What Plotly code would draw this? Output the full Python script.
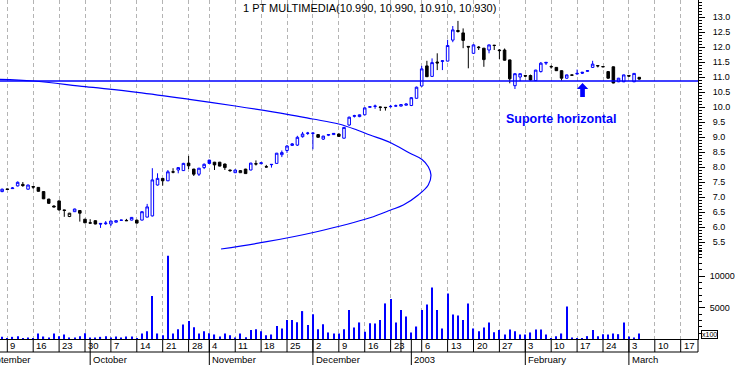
import pandas as pd
import plotly.graph_objects as go

# ---------------- trading calendar (categories) ----------------
holidays = ['2002-11-01', '2002-12-24', '2002-12-25', '2002-12-26', '2003-01-01']
axis_dates = [d for d in pd.bdate_range('2002-09-02', '2003-03-21')
              if d.strftime('%Y-%m-%d') not in holidays]
axis_keys = [d.strftime('%Y-%m-%d') for d in axis_dates]
first_date = '2002-09-06'

# ---------------- price data (OHLC) ----------------
opens = [7.18, 7.27, 7.28, 7.37, 7.42, 7.26, 7.35, 7.32, 7.18, 6.93, 6.70, 6.87, 6.57, 6.35, 6.51, 6.55,
         6.26, 6.14, 6.21, 6.12, 6.11, 6.10, 6.16, 6.22, 6.22, 6.23, 6.23, 6.23, 6.33, 6.37, 7.40, 7.62,
         7.54, 7.84, 7.90, 7.88, 8.13, 7.93, 7.76, 7.98, 8.23, 8.16, 8.16, 8.10, 7.90, 7.81, 7.81, 7.93,
         7.90, 8.11, 8.11, 8.01, 8.09, 8.12, 8.41, 8.55, 8.72, 8.73, 9.01, 9.12, 9.12, 9.08, 8.93, 9.06,
         9.08, 9.10, 8.96, 9.40, 9.69, 9.68, 9.74, 9.99, 10.02, 10.00, 9.99, 10.01, 10.03, 10.03, 10.06,
         10.05, 10.29, 10.70, 11.37, 11.02, 11.50, 11.52, 11.53, 12.23, 12.55, 12.47, 12.02, 11.79, 12.00,
         11.96, 11.90, 12.06, 11.90, 11.90, 11.57, 10.71, 11.00, 11.05, 11.05, 10.88, 11.18, 11.49, 11.35,
         11.32, 11.21, 10.96, 11.07, 11.10, 11.16, 11.19, 11.32, 11.38, 11.35, 11.18, 11.34, 10.84, 10.84,
         11.05, 10.84, 10.99]
highs = [7.28, 7.28, 7.33, 7.52, 7.50, 7.41, 7.36, 7.33, 7.19, 6.94, 6.72, 6.88, 6.58, 6.47, 6.61, 6.56,
         6.27, 6.26, 6.22, 6.12, 6.20, 6.21, 6.22, 6.24, 6.27, 6.33, 6.24, 6.52, 6.77, 7.96, 7.79, 7.63,
         7.90, 7.96, 8.00, 8.14, 8.37, 7.94, 7.97, 8.12, 8.24, 8.17, 8.17, 8.11, 7.91, 7.91, 7.89, 7.94,
         8.14, 8.22, 8.15, 8.07, 8.10, 8.47, 8.55, 8.73, 8.80, 9.04, 9.17, 9.17, 9.15, 9.09, 9.04, 9.10,
         9.13, 9.11, 9.33, 9.68, 9.74, 9.75, 9.98, 10.02, 10.08, 10.01, 9.99, 10.07, 10.08, 10.09, 10.12,
         10.33, 10.68, 11.37, 11.54, 11.62, 11.79, 11.56, 12.24, 12.70, 12.87, 12.62, 12.03, 12.09, 12.03,
         11.97, 12.08, 12.07, 11.93, 11.95, 11.58, 11.12, 11.12, 11.07, 11.08, 11.24, 11.50, 11.50, 11.39,
         11.33, 11.22, 11.08, 11.08, 11.25, 11.17, 11.23, 11.54, 11.40, 11.35, 11.20, 11.35, 10.97, 11.08,
         11.07, 11.13, 10.99]
lows = [7.16, 7.24, 7.27, 7.35, 7.34, 7.25, 7.27, 7.18, 6.93, 6.77, 6.66, 6.55, 6.34, 6.33, 6.50, 6.18,
        6.13, 6.12, 6.09, 5.97, 6.07, 6.03, 6.15, 6.21, 6.20, 6.22, 6.12, 6.22, 6.32, 6.35, 7.38, 7.38,
        7.53, 7.79, 7.79, 7.87, 7.93, 7.70, 7.70, 7.93, 8.11, 7.90, 8.02, 7.90, 7.84, 7.80, 7.80, 7.77,
        7.89, 8.05, 8.10, 7.99, 7.98, 8.11, 8.33, 8.47, 8.70, 8.70, 8.98, 9.07, 8.59, 8.98, 8.90, 9.03,
        9.07, 9.01, 8.95, 9.37, 9.65, 9.66, 9.73, 9.98, 9.94, 9.87, 9.88, 9.98, 10.01, 10.02, 10.05,
        10.03, 10.28, 10.68, 11.00, 11.00, 11.23, 11.23, 11.52, 12.16, 12.48, 11.96, 11.29, 11.77, 11.90,
        11.34, 11.79, 11.90, 11.60, 11.55, 10.79, 10.60, 10.86, 11.00, 10.88, 10.87, 11.15, 11.40, 11.28,
        11.20, 10.88, 10.94, 11.04, 11.08, 11.10, 11.17, 11.30, 11.32, 11.33, 10.94, 10.79, 10.83, 10.83,
        11.00, 10.83, 10.91]
closes = [7.26, 7.25, 7.30, 7.49, 7.38, 7.40, 7.33, 7.19, 6.94, 6.79, 6.67, 6.57, 6.55, 6.46, 6.60, 6.46,
          6.14, 6.13, 6.10, 6.10, 6.13, 6.20, 6.21, 6.23, 6.21, 6.32, 6.13, 6.51, 6.67, 7.57, 7.62, 7.54,
          7.84, 7.83, 7.98, 8.12, 8.04, 7.76, 7.96, 8.09, 8.12, 8.07, 8.03, 7.98, 7.88, 7.90, 7.88, 7.78,
          8.13, 8.10, 8.14, 8.00, 8.08, 8.46, 8.48, 8.70, 8.77, 8.99, 9.10, 9.13, 9.13, 8.99, 9.03, 9.08,
          9.12, 9.02, 9.32, 9.66, 9.71, 9.74, 9.97, 10.01, 10.03, 9.99, 9.98, 10.02, 10.04, 10.08, 10.10,
          10.31, 10.66, 11.27, 11.01, 11.48, 11.47, 11.54, 12.05, 12.57, 12.52, 12.22, 12.00, 12.07, 11.98,
          11.58, 12.07, 12.05, 11.88, 11.56, 10.94, 11.11, 11.11, 11.03, 10.90, 11.23, 11.46, 11.47, 11.34,
          11.21, 10.96, 11.07, 11.06, 11.12, 11.13, 11.21, 11.43, 11.37, 11.34, 10.96, 10.80, 10.96, 11.07,
          11.03, 11.12, 10.93]
# volume in units of x100
volumes = [420, 150, 420, 530, 100, 320, 200, 950, 475, 320, 950, 530, 790, 320, 320, 530,
           1000, 320, 320, 420, 530, 320, 475, 320, 475, 475, 200, 950, 1320, 6850, 950, 690,
           13200, 950, 1630, 2370, 2900, 1950, 950, 1320, 1000, 790, 475, 950, 690, 300, 950, 370,
           1480, 1630, 1320, 690, 790, 2110, 1740, 3060, 3060, 2740, 4480, 2270, 4000, 1630, 2420, 1110,
           950, 950, 1630, 4640, 1900, 2690, 1210, 2580, 2530, 3060, 5690, 6370, 2690, 4640, 3630,
           1110, 2050, 4640, 5530, 8220, 4640, 1740, 7270, 3950, 3790, 3060, 5690, 1740, 1320,
           1900, 2690, 1160, 1480, 790, 1580, 1320, 790, 790, 1110, 1580, 1580, 790, 250,
           530, 950, 5220, 320, 250, 250, 530, 1480, 530, 840, 790, 950, 840, 2690,
           475, 320, 950]

title_text = '1 PT MULTIMEDIA(10.990, 10.990, 10.910, 10.930)'
support_level = 10.867
support_label = 'Suporte horizontal'
support_label_date = '2003-02-12'
arrow_date = '2003-02-18'

# hand-drawn curve (date position, price)
curve_pos = [3.59, 10.02, 20.06, 30.10, 40.14, 49.02, 59.05, 63.96, 68.98, 72.51, 75.02, 79.02, 82.74,
             85.0, 86.27, 86.79, 86.27, 84.34, 81.45, 79.02, 75.02, 64.73, 55.08, 46.26]
curve_price = [10.923, 10.867, 10.677, 10.49, 10.257, 10.033, 9.757, 9.60, 9.433, 9.233, 9.067, 8.81,
               8.457, 8.257, 8.01, 7.733, 7.40, 7.067, 6.733, 6.567, 6.307, 5.843, 5.51, 5.267]

price_ticks = [5.0, 5.5, 6.0, 6.5, 7.0, 7.5, 8.0, 8.5, 9.0, 9.5, 10.0, 10.5, 11.0, 11.5, 12.0, 12.5, 13.0, 13.5]
price_labels = ['', '5.5', '6.0', '6.5', '7.0', '7.5', '8.0', '8.5', '9.0', '9.5', '10.0', '10.5',
                '11.0', '11.5', '12.0', '12.5', '13.0', '']
vol_ticks = [0, 5000, 10000]
vol_labels = ['', '5000', '10000']
hidden_weeks = ['2002-12-30']
month_names = {9: 'September', 10: 'October', 11: 'November', 12: 'December',
               1: '2003', 2: 'February', 3: 'March'}

# ---------------- derived positions ----------------
start = axis_keys.index(first_date)
pos = list(range(start, start + len(closes)))
X0, X1 = 3.59, 138.34
Y0, Y1 = 2.2667, 13.5667
V0, V1 = 79, 53540

BLUE = '#0000ff'
FONT = 'Liberation Sans, Arial, sans-serif'

fig = go.Figure()
fig.add_trace(go.Bar(x=pos, y=volumes, width=0.22, marker=dict(color=BLUE, line=dict(width=0)),
                     yaxis='y2', showlegend=False, hoverinfo='skip'))
fig.add_trace(go.Scatter(x=curve_pos, y=curve_price, mode='lines', line=dict(color=BLUE, width=1.2, shape='spline'),
                         showlegend=False, hoverinfo='skip'))

up_idx, dn_idx = [], []
for i in range(len(closes)):
    if i == 0 or closes[i] >= closes[i - 1]:
        up_idx.append(i)
    else:
        dn_idx.append(i)

for idx, col in ((up_idx, BLUE), (dn_idx, '#000000')):
    fig.add_trace(go.Candlestick(
        x=[pos[i] for i in idx], open=[opens[i] for i in idx], high=[highs[i] for i in idx],
        low=[lows[i] for i in idx], close=[closes[i] for i in idx],
        increasing=dict(line=dict(color=col, width=1), fillcolor='white'),
        decreasing=dict(line=dict(color=col, width=1), fillcolor=col),
        whiskerwidth=0, showlegend=False, hoverinfo='skip'))

# week ticks / month lines
week_pos, month_pos = [], []
prev_week = None
prev_month = None
for k, d in enumerate(axis_dates):
    wk = d.isocalendar()[1]
    if wk != prev_week:
        week_pos.append((k, d))
        prev_week = wk
    if d.month != prev_month:
        month_pos.append((k, d))
        prev_month = d.month

grid_pos = [k for k, d in week_pos if d.strftime('%Y-%m-%d') not in hidden_weeks]

shapes = []
annotations = []
row1 = -13 / 339
row2 = -26 / 339
for k, d in week_pos:
    shapes.append(dict(type='line', xref='x', yref='paper', x0=k, x1=k, y0=0, y1=row1,
                       line=dict(color='black', width=1)))
    if d.strftime('%Y-%m-%d') in hidden_weeks:
        continue
    if X0 <= k <= X1:
        annotations.append(dict(x=k, xref='x', y=-6.5 / 339, yref='paper', text=str(d.day),
                                xanchor='left', yanchor='middle', xshift=1, showarrow=False,
                                font=dict(family=FONT, size=9.5, color='black')))
for k, d in month_pos:
    shapes.append(dict(type='line', xref='x', yref='paper', x0=k, x1=k, y0=0, y1=row2,
                       line=dict(color='black', width=1)))
    if X0 <= k <= X1:
        ax = dict(x=k, xref='x')
    else:
        ax = dict(x=(k - X0) / (X1 - X0), xref='paper')
    annotations.append(dict(**ax, y=-20 / 339, yref='paper', text=month_names[d.month],
                            xanchor='left', yanchor='middle', xshift=1, showarrow=False,
                            font=dict(family=FONT, size=9.5, color='black')))

shapes.append(dict(type='line', xref='paper', yref='paper', x0=0, x1=1, y0=row1, y1=row1,
                   line=dict(color='black', width=1)))
shapes.append(dict(type='line', xref='paper', yref='paper', x0=1, x1=1, y0=0, y1=row1,
                   line=dict(color='black', width=1)))
# support line
shapes.append(dict(type='line', xref='paper', yref='y', x0=0, x1=1, y0=support_level, y1=support_level,
                   line=dict(color=BLUE, width=1.3)))
# arrow
ak = axis_keys.index(arrow_date) + 0.05
hw, sw = 1.1, 0.45
path = (f'M {ak},{10.80} L {ak + hw},{10.60} L {ak + sw},{10.60} L {ak + sw},{10.33} '
        f'L {ak - sw},{10.33} L {ak - sw},{10.60} L {ak - hw},{10.60} Z')
shapes.append(dict(type='path', xref='x', yref='y', path=path, fillcolor=BLUE, line=dict(color=BLUE, width=0)))

annotations.append(dict(x=(369 / 698), xref='paper', y=1 - 8.5 / 339, yref='paper', text=title_text,
                        showarrow=False, xanchor='center', yanchor='middle',
                        font=dict(family=FONT, size=11, color='black')))
annotations.append(dict(x=axis_keys.index(support_label_date) - 0.1, xref='x', y=9.60, yref='y',
                        text=support_label, showarrow=False, xanchor='center', yanchor='middle',
                        font=dict(family=FONT, size=12.5, color=BLUE, weight='bold')))
annotations.append(dict(x=1.0165, xref='paper', y=5 / 339, yref='paper', text='x100', showarrow=False,
                        xanchor='center', yanchor='middle', bordercolor='black', borderwidth=1, borderpad=0,
                        font=dict(family=FONT, size=7, color='black')))

fig.update_layout(
    width=738, height=365, autosize=False,
    margin=dict(l=0, r=40, t=0, b=26),
    paper_bgcolor='white', plot_bgcolor='white',
    showlegend=False,
    xaxis=dict(range=[X0, X1], showgrid=True, tickmode='array', tickvals=grid_pos, gridcolor='#b4b4b4',
               griddash='4px,3px', gridwidth=1, showticklabels=False, ticks='', showline=True,
               linecolor='black', linewidth=1, zeroline=False, rangeslider=dict(visible=False)),
    yaxis=dict(range=[Y0, Y1], side='right', showgrid=False, zeroline=False, showline=True,
               linecolor='black', linewidth=1, ticks='outside', ticklen=6, tickcolor='black',
               tickmode='array', tickvals=price_ticks, ticktext=price_labels, ticklabelstandoff=6,
               tickfont=dict(family=FONT, size=9, color='black'),
               minor=dict(tickmode='array', tickvals=[round(5.0 + 0.1 * j, 1) for j in range(86)],
                          ticks='outside', ticklen=3, tickcolor='black', showgrid=False)),
    yaxis2=dict(range=[V0, V1], side='right', overlaying='y', showgrid=False, zeroline=False, showline=True,
                linecolor='black', linewidth=1, ticks='outside', ticklen=6, tickcolor='black',
                tickmode='array', tickvals=vol_ticks, ticktext=vol_labels, ticklabelstandoff=3,
                tickfont=dict(family=FONT, size=9, color='black'),
                minor=dict(tickmode='array', tickvals=[1000 * j for j in range(15)],
                           ticks='outside', ticklen=3, tickcolor='black', showgrid=False)),
    shapes=shapes, annotations=annotations,
)

fig.write_html('out.html', config={'displayModeBar': False},
               post_script="document.body.style.margin='0';document.body.style.padding='0';")
